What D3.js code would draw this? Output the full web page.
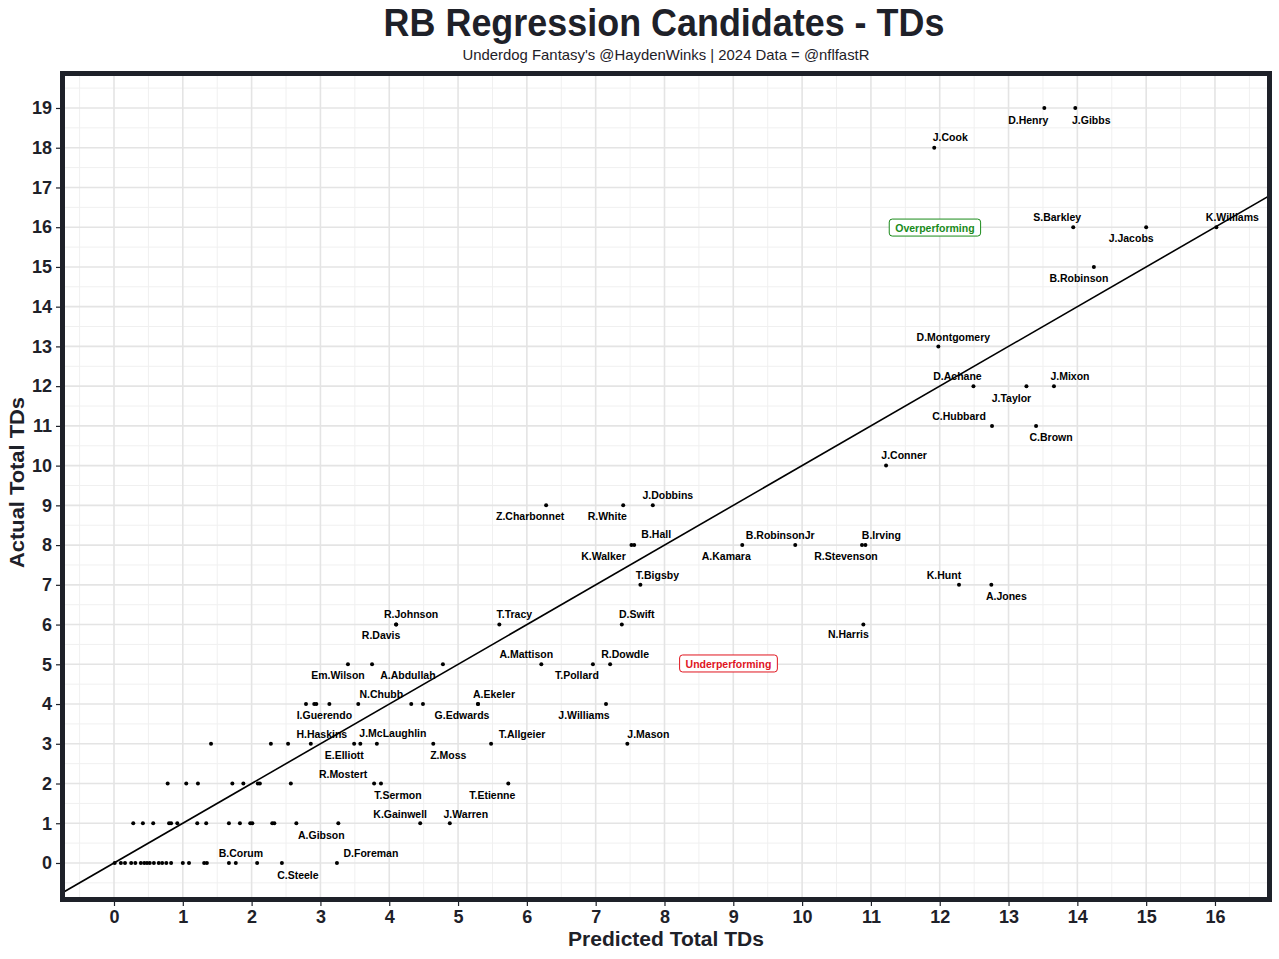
<!DOCTYPE html>
<html>
<head>
<meta charset="utf-8">
<script src="https://cdn.jsdelivr.net/npm/d3@7"></script>
<style>
  body { margin: 0; background: #fff; }
  svg text { font-family: "Liberation Sans", Arial, sans-serif; }
</style>
</head>
<body>
<div id="chart"></div>
<script>
// data (one line per actual-TD row)
var names = [
  "D.Henry","J.Gibbs",
  "J.Cook",
  "S.Barkley","J.Jacobs","K.Williams",
  "B.Robinson",
  "D.Montgomery",
  "D.Achane","J.Taylor","J.Mixon",
  "C.Hubbard","C.Brown",
  "J.Conner",
  "Z.Charbonnet","R.White","J.Dobbins",
  "K.Walker","B.Hall","A.Kamara","B.RobinsonJr","R.Stevenson","B.Irving",
  "T.Bigsby","K.Hunt","A.Jones",
  "R.Johnson","R.Davis","T.Tracy","D.Swift","N.Harris",
  "Em.Wilson","","A.Abdullah","A.Mattison","T.Pollard","R.Dowdle",
  "","","","I.Guerendo","N.Chubb","","","A.Ekeler","G.Edwards","J.Williams",
  "","","","H.Haskins","","E.Elliott","J.McLaughlin","Z.Moss","T.Allgeier","J.Mason",
  "","","","","","","","","R.Mostert","T.Sermon","T.Etienne",
  "","","","","","","","","","","","","","","","A.Gibson","K.Gainwell","J.Warren",
  "","","","","","","","","","","","","","","","","","","B.Corum","","","C.Steele","D.Foreman"
];
var predicted = [
  13.52,13.97,
  11.92,
  13.94,15.00,16.02,
  14.24,
  11.98,
  12.49,13.26,13.66,
  12.76,13.40,
  11.22,
  6.28,7.40,7.83,
  7.52,7.56,9.13,9.90,10.87,10.92,
  7.65,12.28,12.75,
  4.10,4.10,5.60,7.38,10.89,
  3.40,3.75,4.78,6.21,6.96,7.21,
  2.79,2.91,2.94,3.13,3.55,4.32,4.49,5.29,5.29,7.15,
  1.41,2.28,2.53,2.86,3.49,3.58,3.82,4.64,5.48,7.46,
  0.78,1.05,1.22,1.72,1.88,2.09,2.12,2.57,3.78,3.88,5.73,
  0.28,0.42,0.57,0.80,0.83,0.92,1.21,1.34,1.67,1.83,1.98,2.01,2.30,2.33,2.65,3.26,4.45,4.88,
  0.01,0.10,0.16,0.25,0.31,0.39,0.44,0.48,0.52,0.58,0.65,0.70,0.76,0.83,1.00,1.09,1.31,1.35,1.67,1.77,2.08,2.44,3.24
];
var actual = [
  19,19,
  18,
  16,16,16,
  15,
  13,
  12,12,12,
  11,11,
  10,
  9,9,9,
  8,8,8,8,8,8,
  7,7,7,
  6,6,6,6,6,
  5,5,5,5,5,5,
  4,4,4,4,4,4,4,4,4,4,
  3,3,3,3,3,3,3,3,3,3,
  2,2,2,2,2,2,2,2,2,2,2,
  1,1,1,1,1,1,1,1,1,1,1,1,1,1,1,1,1,1,
  0,0,0,0,0,0,0,0,0,0,0,0,0,0,0,0,0,0,0,0,0,0,0
];
var xTicks = d3.range(0, 17);
var yTicks = d3.range(0, 20);

// label offsets in pixels (layout only)
var labelOffset = {
  "D.Henry":[-16,12],"J.Gibbs":[16,12],"J.Cook":[16,-10],"S.Barkley":[-16,-10],
  "J.Jacobs":[-15,11],"K.Williams":[16,-10],"B.Robinson":[-15,11],"D.Montgomery":[15,-9],
  "D.Achane":[-16,-10],"J.Taylor":[-15,12],"J.Mixon":[16,-10],"C.Hubbard":[-33,-10],
  "C.Brown":[15,11],"J.Conner":[18,-10],"Z.Charbonnet":[-16,11],"R.White":[-16,11],
  "J.Dobbins":[15,-10],"K.Walker":[-28,11],"B.Hall":[22,-11],"A.Kamara":[-16,11],
  "B.RobinsonJr":[-15,-10],"R.Stevenson":[-16,11],"B.Irving":[16,-10],"T.Bigsby":[17,-10],
  "K.Hunt":[-15,-10],"A.Jones":[15,11],"R.Johnson":[15,-10],"R.Davis":[-15,11],
  "T.Tracy":[15,-10],"D.Swift":[15,-10],"N.Harris":[-15,10],"Em.Wilson":[-10,11],
  "A.Abdullah":[-35,11],"A.Mattison":[-15,-10],"T.Pollard":[-16,11],"R.Dowdle":[15,-10],
  "N.Chubb":[23,-10],"I.Guerendo":[-5,11],"A.Ekeler":[16,-10],"G.Edwards":[-16,11],
  "J.Williams":[-22,11],"H.Haskins":[11,-9],"E.Elliott":[-16,12],"J.McLaughlin":[16,-10],
  "Z.Moss":[15,12],"T.Allgeier":[31,-9],"J.Mason":[21,-9],"R.Mostert":[-31,-9],
  "T.Sermon":[17,12],"T.Etienne":[-16,12],"A.Gibson":[-17,12],"K.Gainwell":[-20,-9],
  "J.Warren":[16,-9],"B.Corum":[12,-10],"C.Steele":[16,12],"D.Foreman":[34,-10]
};

var width = 1279, height = 959;
var dark = "#1e2129";

var svg = d3.select("#chart").append("svg")
  .attr("width", width)
  .attr("height", height);

// plot panel (inside the border)
var panel = {left: 65, right: 1267, top: 76, bottom: 897};

var x = d3.scaleLinear()
  .domain([-0.712, 16.756])
  .range([panel.left, panel.right]);
var y = d3.scaleLinear()
  .domain([-0.856, 19.805])
  .range([panel.bottom, panel.top]);

var plot = svg.append("g");

// minor grid
var minorX = d3.range(-0.5, 17, 1), minorY = d3.range(-0.5, 20, 1);
plot.selectAll(".mx").data(minorX).enter().append("line")
  .attr("x1", d => x(d)).attr("x2", d => x(d))
  .attr("y1", panel.top).attr("y2", panel.bottom)
  .attr("stroke", "#f0f0f0").attr("stroke-width", 1);
plot.selectAll(".my").data(minorY).enter().append("line")
  .attr("y1", d => y(d)).attr("y2", d => y(d))
  .attr("x1", panel.left).attr("x2", panel.right)
  .attr("stroke", "#f0f0f0").attr("stroke-width", 1);

// major grid
plot.selectAll(".gx").data(xTicks).enter().append("line")
  .attr("x1", d => x(d)).attr("x2", d => x(d))
  .attr("y1", panel.top).attr("y2", panel.bottom)
  .attr("stroke", "#e4e4e4").attr("stroke-width", 1.6);
plot.selectAll(".gy").data(yTicks).enter().append("line")
  .attr("y1", d => y(d)).attr("y2", d => y(d))
  .attr("x1", panel.left).attr("x2", panel.right)
  .attr("stroke", "#e4e4e4").attr("stroke-width", 1.6);

// y = x reference line
svg.append("clipPath").attr("id", "clip")
  .append("rect")
  .attr("x", panel.left).attr("y", panel.top)
  .attr("width", panel.right - panel.left).attr("height", panel.bottom - panel.top);

plot.append("line")
  .attr("clip-path", "url(#clip)")
  .attr("x1", x(-1)).attr("y1", y(-1))
  .attr("x2", x(17)).attr("y2", y(17))
  .attr("stroke", "#000").attr("stroke-width", 1.6);

// annotation boxes
function tag(label, px, py, color) {
  var g = plot.append("g");
  var t = g.append("text")
    .attr("x", x(px)).attr("y", y(py))
    .attr("text-anchor", "middle").attr("dy", "0.35em")
    .attr("font-size", "10.5px").attr("font-weight", "bold")
    .attr("fill", color).text(label);
  var bb = t.node().getBBox();
  g.insert("rect", "text")
    .attr("x", bb.x - 6).attr("y", bb.y - 3)
    .attr("width", bb.width + 12).attr("height", bb.height + 5)
    .attr("rx", 3).attr("fill", "#fff")
    .attr("stroke", color).attr("stroke-width", 1);
}
tag("Overperforming", 11.93, 15.97, "#1a8a1a");
tag("Underperforming", 8.93, 5.0, "#e0141e");

// points
var pts = d3.range(names.length);
plot.selectAll(".dot").data(pts).enter().append("circle")
  .attr("cx", i => x(predicted[i]))
  .attr("cy", i => y(actual[i]))
  .attr("r", 2)
  .attr("fill", "#000");

// point labels
plot.selectAll(".lbl").data(pts.filter(i => names[i] !== "")).enter().append("text")
  .attr("x", i => x(predicted[i]) + (labelOffset[names[i]] || [15, -10])[0])
  .attr("y", i => y(actual[i]) + (labelOffset[names[i]] || [15, -10])[1])
  .attr("dy", "0.35em")
  .attr("text-anchor", "middle")
  .attr("font-size", "10.5px")
  .attr("font-weight", "bold")
  .attr("fill", "#000")
  .text(i => names[i]);

// panel border
svg.append("rect")
  .attr("x", panel.left - 2.5).attr("y", panel.top - 2.5)
  .attr("width", panel.right - panel.left + 5).attr("height", panel.bottom - panel.top + 5)
  .attr("fill", "none").attr("stroke", dark).attr("stroke-width", 5);

// axes
var xAxis = svg.append("g")
  .attr("transform", `translate(0, ${panel.bottom + 5})`)
  .call(d3.axisBottom(x).tickValues(xTicks).tickSize(4).tickPadding(4).tickFormat(d3.format("d")));
var yAxis = svg.append("g")
  .attr("transform", `translate(${panel.left - 5}, 0)`)
  .call(d3.axisLeft(y).tickValues(yTicks).tickSize(4).tickPadding(4).tickFormat(d3.format("d")));

[xAxis, yAxis].forEach(function(a) {
  a.select(".domain").remove();
  a.selectAll(".tick line").attr("stroke", dark).attr("stroke-width", 1.2);
  a.selectAll(".tick text")
    .attr("fill", dark)
    .attr("font-size", "18px")
    .attr("font-weight", "bold")
    .style("font-family", "'Liberation Sans', Arial, sans-serif");
});

// condensed titles: squeeze Liberation Sans horizontally to the measured width
function narrowText(cx, cy, txt, size, bold, w, rotate) {
  var g = svg.append("g")
    .attr("transform", `translate(${cx}, ${cy})` + (rotate ? " rotate(-90)" : ""));
  var t = g.append("text")
    .attr("text-anchor", "middle")
    .attr("font-size", size + "px")
    .attr("font-weight", bold ? "bold" : "normal")
    .attr("fill", dark)
    .text(txt);
  var len = t.node().getComputedTextLength();
  t.attr("transform", `scale(${w / len}, 1)`);
  return t;
}

narrowText(664, 36, "RB Regression Candidates - TDs", 39, true, 561, false);
narrowText(666, 60, "Underdog Fantasy's @HaydenWinks | 2024 Data = @nflfastR", 14.5, false, 407, false);
narrowText((panel.left + panel.right) / 2, 946, "Predicted Total TDs", 21, true, 196, false);
narrowText(24, (panel.top + panel.bottom) / 2 - 4, "Actual Total TDs", 21, true, 171, true);
</script>
</body>
</html>
